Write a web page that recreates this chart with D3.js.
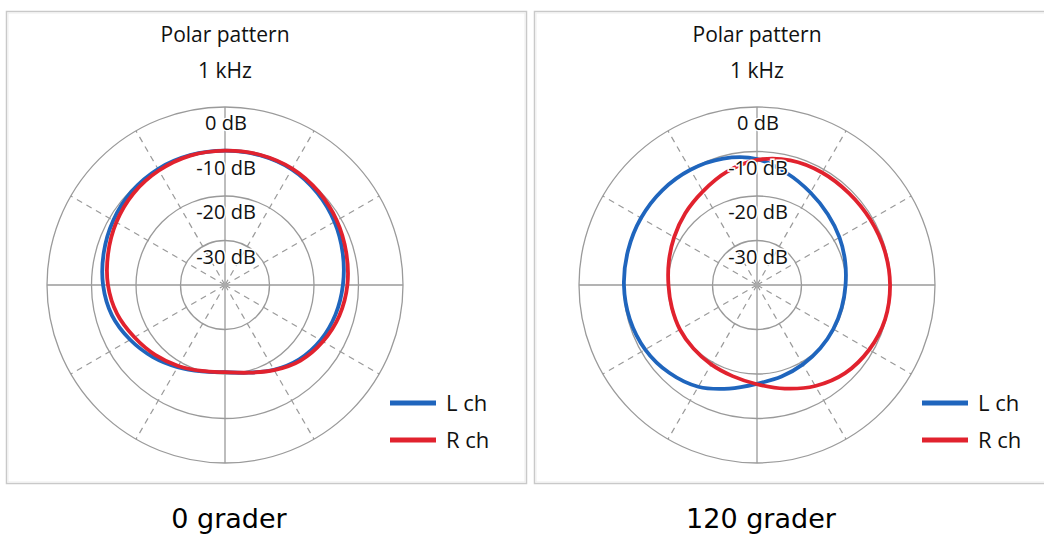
<!DOCTYPE html>
<html>
<head>
<meta charset="utf-8">
<script src="https://cdn.jsdelivr.net/npm/d3@7/dist/d3.min.js"></script>
<style>
  html, body { margin: 0; padding: 0; background: #fff; }
  svg { display: block; }
</style>
</head>
<body>
<svg id="chart" width="1044" height="545"></svg>
<script>
// ---- Data ----
const angles = [0, 15, 30, 45, 60, 75, 90, 105, 120, 135, 150, 165,
                180, 195, 210, 225, 240, 255, 270, 285, 300, 315, 330, 345];

// 0 grader
const deg0_L = [-9.8, -9.8, -10.0, -10.7, -11.6, -12.6, -13.5, -14.3, -15.2, -16.4, -18.0, -19.6,
                -20.4, -19.9, -18.7, -17.1, -15.4, -13.7, -12.6, -11.8, -11.0, -10.3, -9.9, -9.8];
const deg0_R = [-9.8, -9.7, -9.8, -10.3, -11.0, -11.8, -12.5, -13.4, -14.6, -16.0, -17.9, -19.6,
                -20.4, -20.0, -19.0, -17.8, -16.5, -14.9, -13.7, -12.8, -11.8, -10.9, -10.3, -9.9];

// 120 grader
const deg120_L = [-11.7, -14.0, -16.0, -17.5, -18.6, -19.5, -20.1, -20.3, -20.2, -19.9, -19.4, -18.7,
                  -17.8, -15.9, -13.6, -12.1, -11.0, -10.4, -10.1, -10.0, -9.9, -9.9, -10.1, -10.6];
const deg120_R = [-11.9, -11.0, -10.8, -10.8, -10.6, -10.3, -10.1, -10.2, -10.9, -12.0, -13.8, -15.9,
                  -17.7, -18.8, -19.4, -19.8, -20.0, -20.2, -20.1, -19.5, -18.5, -17.2, -15.7, -13.7];

const ringValues = [0, -10, -20, -30];
const ringLabels = ["0 dB", "-10 dB", "-20 dB", "-30 dB"];
const spokeAngles = [0, 30, 60, 90, 120, 150, 180, 210, 240, 270, 300, 330];
const titleLines = ["Polar pattern", "1 kHz"];
const seriesNames = ["L ch", "R ch"];
const seriesColors = ["#1f65bd", "#e1222e"];
const captions = ["0 grader", "120 grader"];

const panels = [
  { caption: captions[0], L: deg0_L, R: deg0_R, box: [6, 11, 520, 472], cx: 225 },
  { caption: captions[1], L: deg120_L, R: deg120_R, box: [534, 11, 520, 472], cx: 757 }
];

// ---- Drawing ----
const svg = d3.select("#chart");
const cy = 285, R = 178;
const r = d3.scaleLinear().domain([-40, 0]).range([0, R]);
const font = "'Open Sans', 'Noto Sans', sans-serif";
const gridColor = "#9a9a9a";
const textColor = "#111";

panels.forEach(p => {
  const [bx, by, bw, bh] = p.box;
  svg.append("rect").attr("x", bx + 0.5).attr("y", by + 0.5).attr("width", bw).attr("height", bh)
    .attr("fill", "#fff").attr("stroke", "#c9c9c9").attr("stroke-width", 1.5);
  svg.append("rect").attr("x", bx + 2).attr("y", by + 2).attr("width", bw - 3).attr("height", bh - 3)
    .attr("fill", "none").attr("stroke", "#ededed").attr("stroke-width", 1);

  const g = svg.append("g").attr("transform", `translate(${p.cx},${cy})`);

  // title
  titleLines.forEach((t, i) => {
    g.append("text").attr("x", 0).attr("y", 42 - cy + i * 36)
      .attr("text-anchor", "middle").attr("font-family", font).attr("font-size", 21)
      .attr("fill", textColor).text(t);
  });

  // rings
  ringValues.forEach(v => {
    g.append("circle").attr("r", r(v)).attr("fill", "none")
      .attr("stroke", gridColor).attr("stroke-width", 1.3);
  });

  // spokes
  spokeAngles.forEach(a => {
    const rad = a * Math.PI / 180;
    const x2 = Math.sin(rad) * R, y2 = -Math.cos(rad) * R;
    const solid = a % 90 === 0;
    g.append("line").attr("x1", 0).attr("y1", 0).attr("x2", x2).attr("y2", y2)
      .attr("stroke", gridColor).attr("stroke-width", solid ? 1.3 : 1.2)
      .attr("stroke-dasharray", solid ? null : "6,5");
  });
  g.append("circle").attr("r", 2.5).attr("fill", "#aaa");

  // curves
  const line = d3.lineRadial()
    .angle(d => d[0] * Math.PI / 180)
    .radius(d => r(d[1]))
    .curve(d3.curveCatmullRomClosed.alpha(0.5));
  [p.L, p.R].forEach((vals, i) => {
    g.append("path").datum(angles.map((a, k) => [a, vals[k]]))
      .attr("d", line).attr("fill", "none")
      .attr("stroke", seriesColors[i]).attr("stroke-width", 3.8)
      .attr("stroke-linejoin", "round");
  });

  // ring labels
  ringValues.forEach((v, i) => {
    g.append("text").attr("x", 1).attr("y", -r(v) + 23)
      .attr("text-anchor", "middle").attr("font-family", font).attr("font-size", 20)
      .attr("fill", textColor)
      .attr("stroke", "#fff").attr("stroke-width", 3).attr("paint-order", "stroke")
      .text(ringLabels[i]);
  });

  // legend
  seriesNames.forEach((n, i) => {
    const ly = 403 - cy + i * 37;
    g.append("line").attr("x1", 165).attr("x2", 211).attr("y1", ly).attr("y2", ly)
      .attr("stroke", seriesColors[i]).attr("stroke-width", 5);
    g.append("text").attr("x", 221).attr("y", ly + 8)
      .attr("font-family", font).attr("font-size", 22).attr("fill", textColor).text(n);
  });

  // caption
  svg.append("text").attr("x", p.cx + 4).attr("y", 528)
    .attr("text-anchor", "middle").attr("font-family", "'DejaVu Sans', Verdana, sans-serif")
    .attr("font-size", 27).attr("fill", "#000").text(p.caption);
});
</script>
</body>
</html>
